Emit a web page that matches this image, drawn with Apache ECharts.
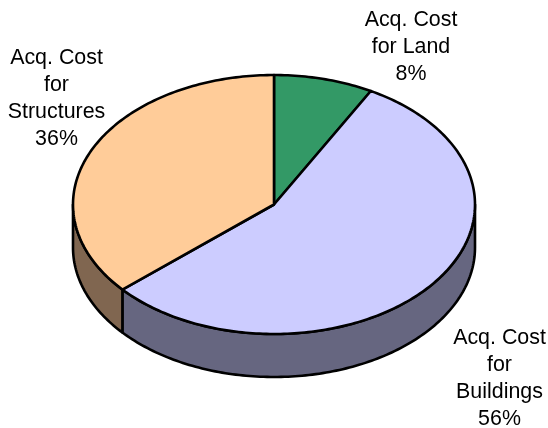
<!DOCTYPE html>
<html>
<head>
<meta charset="utf-8">
<style>html,body{margin:0;padding:0;background:#fff}#c{width:548px;height:428px}</style>
<script src="https://cdn.jsdelivr.net/npm/echarts@6/dist/echarts.min.js"></script>
</head>
<body>
<div id="c"></div>
<script>
const categories = ['Acq. Cost\nfor Land', 'Acq. Cost\nfor\nBuildings', 'Acq. Cost\nfor\nStructures'];
const values = [8, 55.6, 36.4];
const topColors = ['#339966', '#CCCCFF', '#FFCC99'];
const sideColors = ['#1A4D33', '#666680', '#806650'];
const labelPositions = [[411, 7], [499.5, 325], [56.5, 45]];

const CX = 274, CY = 204.5, RX = 201, RY = 129.5, DEPTH = 43, LW = 2.6;
const total = values.reduce((a, b) => a + b, 0);
const rad = d => d * Math.PI / 180;
const startAngle = i => values.slice(0, i).reduce((a, b) => a + b, 0) / total * 360;
const pt = (deg, dy) => [CX + RX * Math.sin(rad(deg)), CY - RY * Math.cos(rad(deg)) + dy];
function arc(a, b, dy) {
  const out = [], n = Math.max(2, Math.ceil(Math.abs(b - a)));
  for (let k = 0; k <= n; k++) out.push(pt(a + (b - a) * k / n, dy));
  return out;
}
const style = (fill) => ({ fill, stroke: '#000', lineWidth: LW, lineJoin: 'round' });

function renderSide(params, api) {
  const i = api.value(1);
  const a = Math.max(startAngle(i), 90);
  const b = Math.min(startAngle(i) + api.value(0) / total * 360, 270);
  if (b <= a) return { type: 'group', children: [] };
  return {
    type: 'polygon',
    shape: { points: arc(a, b, 0).concat(arc(b, a, DEPTH)) },
    style: style(sideColors[i])
  };
}
function renderTop(params, api) {
  const i = api.value(1);
  const a = startAngle(i);
  const b = a + api.value(0) / total * 360;
  return {
    type: 'polygon',
    shape: { points: [[CX, CY]].concat(arc(a, b, 0)) },
    style: style(topColors[i])
  };
}
const seriesData = values.map((v, i) => [v, i]);
const chart = echarts.init(document.getElementById('c'), null, { renderer: 'canvas' });
chart.setOption({
  animation: false,
  backgroundColor: '#fff',
  series: [
    { type: 'custom', coordinateSystem: 'none', renderItem: renderSide, data: seriesData, silent: true, z: 1 },
    { type: 'custom', coordinateSystem: 'none', renderItem: renderTop, data: seriesData, silent: true, z: 2 }
  ],
  graphic: categories.map((c, i) => ({
    type: 'text',
    x: labelPositions[i][0],
    y: labelPositions[i][1],
    z: 5,
    style: {
      text: c + '\n' + Math.round(values[i]) + '%',
      fontFamily: '"Liberation Sans", Arial, sans-serif',
      fontSize: 21.4,
      lineHeight: 27,
      fill: '#000',
      align: 'center',
      verticalAlign: 'top'
    }
  }))
});
</script>
</body>
</html>
